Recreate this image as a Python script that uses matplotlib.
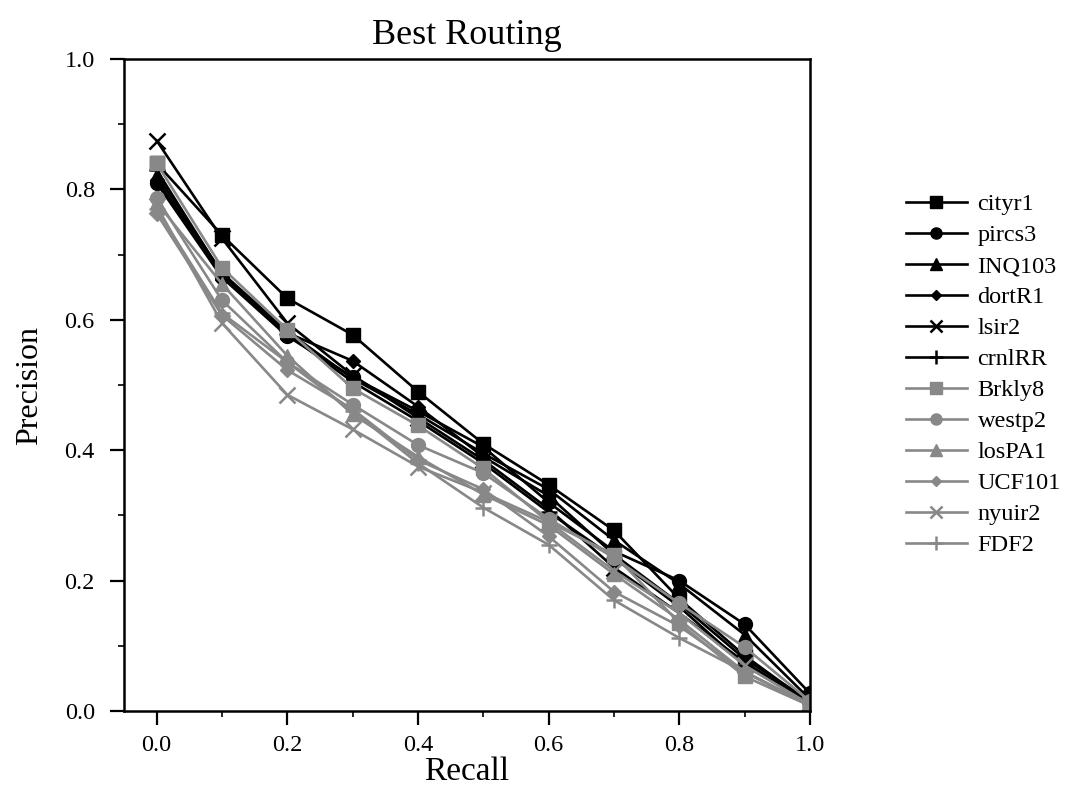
import numpy as np
import matplotlib
matplotlib.use("Agg")
import matplotlib.pyplot as plt
from matplotlib.ticker import MultipleLocator

plt.rcParams['font.family'] = ['Liberation Serif', 'DejaVu Serif']

recall = [0.0, 0.1, 0.2, 0.3, 0.4, 0.5, 0.6, 0.7, 0.8, 0.9, 1.0]

# precision at each recall level, one list per run
cityr1 = [0.840, 0.730, 0.633, 0.577, 0.490, 0.410, 0.347, 0.277, 0.172, 0.085, 0.012]
pircs3 = [0.810, 0.665, 0.575, 0.512, 0.460, 0.405, 0.320, 0.245, 0.200, 0.133, 0.027]
INQ103 = [0.822, 0.672, 0.582, 0.510, 0.455, 0.395, 0.340, 0.262, 0.195, 0.117, 0.018]
dortR1 = [0.815, 0.670, 0.580, 0.537, 0.467, 0.390, 0.330, 0.240, 0.165, 0.080, 0.015]
lsir2 = [0.875, 0.725, 0.595, 0.515, 0.450, 0.385, 0.310, 0.220, 0.150, 0.075, 0.012]
crnlRR = [0.830, 0.670, 0.578, 0.505, 0.445, 0.380, 0.305, 0.235, 0.160, 0.070, 0.012]
Brkly8 = [0.840, 0.680, 0.585, 0.495, 0.438, 0.372, 0.290, 0.240, 0.135, 0.053, 0.008]
westp2 = [0.787, 0.630, 0.535, 0.470, 0.408, 0.365, 0.295, 0.235, 0.165, 0.098, 0.015]
losPA1 = [0.780, 0.655, 0.545, 0.455, 0.390, 0.332, 0.285, 0.210, 0.140, 0.060, 0.010]
UCF101 = [0.763, 0.607, 0.523, 0.463, 0.385, 0.340, 0.268, 0.183, 0.130, 0.060, 0.008]
nyuir2 = [0.775, 0.595, 0.485, 0.432, 0.375, 0.335, 0.290, 0.215, 0.150, 0.070, 0.010]
FDF2 = [0.770, 0.610, 0.535, 0.460, 0.380, 0.312, 0.255, 0.170, 0.112, 0.060, 0.008]

names = ["cityr1", "pircs3", "INQ103", "dortR1", "lsir2", "crnlRR",
         "Brkly8", "westp2", "losPA1", "UCF101", "nyuir2", "FDF2"]
series = [cityr1, pircs3, INQ103, dortR1, lsir2, crnlRR,
          Brkly8, westp2, losPA1, UCF101, nyuir2, FDF2]
markers = ["s", "o", "^", "D", "x", "+"] * 2
sizes = [10, 10, 10, 7, 11, 12] * 2
colors = ["black"] * 6 + ["#888888"] * 6

fig = plt.figure(figsize=(10.67, 7.86), dpi=100)
ax = fig.add_axes([0.1162, 0.0954, 0.7591 - 0.1162, 0.9249 - 0.0954])

for name, vals, m, ms, c in zip(names, series, markers, sizes, colors):
    ax.plot(recall, vals, color=c, marker=m, markersize=ms, linewidth=1.9,
            markeredgewidth=1.8 if m in ("x", "+") else 1.0, label=name)

ax.set_xlim(-0.05, 1.0)
ax.set_ylim(0.0, 1.0)
ax.xaxis.set_major_locator(MultipleLocator(0.2))
ax.xaxis.set_minor_locator(MultipleLocator(0.1))
ax.yaxis.set_major_locator(MultipleLocator(0.2))
ax.yaxis.set_minor_locator(MultipleLocator(0.1))
ax.xaxis.set_major_formatter(plt.FormatStrFormatter('%.1f'))
ax.yaxis.set_major_formatter(plt.FormatStrFormatter('%.1f'))
ax.tick_params(which='major', direction='out', length=10, width=1.6, labelsize=17.5)
ax.tick_params(axis='x', which='major', pad=7.5)
ax.tick_params(axis='y', which='major', pad=11)
ax.tick_params(which='minor', direction='out', length=4.5, width=1.2)
for sp in ax.spines.values():
    sp.set_linewidth(1.8)

ax.set_title("Best Routing", fontsize=26, pad=10.5)
ax.set_xlabel("Recall", fontsize=24, labelpad=0)
ax.set_ylabel("Precision", fontsize=23, labelpad=15)

ax.legend(loc='center left', bbox_to_anchor=(1.108, 0.516), frameon=False,
          fontsize=17.5, handlelength=2.5, markerscale=0.8,
          labelspacing=0.37, handletextpad=0.45)

fig.savefig("out.png", dpi=100)
